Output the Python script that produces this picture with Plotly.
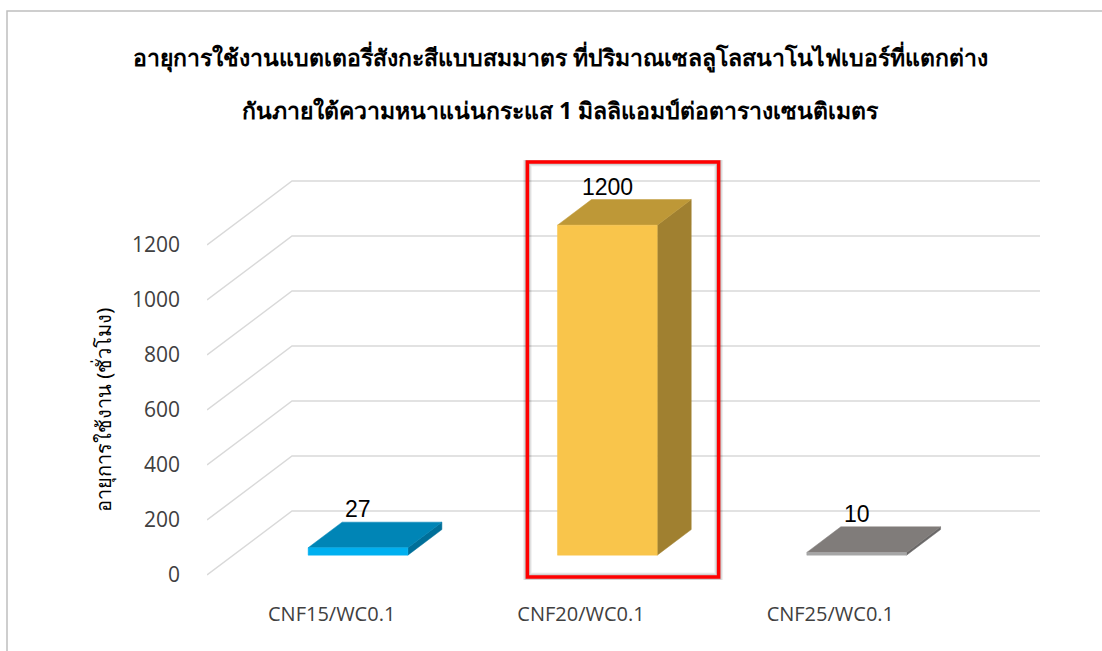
import plotly.graph_objects as go

# ---- data -------------------------------------------------------------
categories = ["CNF15/WC0.1", "CNF20/WC0.1", "CNF25/WC0.1"]
hours = [27, 1200, 10]
y_ticks = [0, 200, 400, 600, 800, 1000, 1200]
highlight = "CNF20/WC0.1"

title_lines = [
    "อายุการใช้งานแบตเตอรี่สังกะสีแบบสมมาตร ที่ปริมาณเซลลูโลสนาโนไฟเบอร์ที่แตกต่าง",
    "กันภายใต้ความหนาแน่นกระแส 1 มิลลิแอมป์ต่อตารางเซนติเมตร",
]
y_title = "อายุการใช้งาน (ชั่วโมง)"

# face colours per bar: front, top, side
front_colors = ["#00B0F0", "#F9C54B", "#A6A6A6"]
top_colors = ["#0085B6", "#BE9837", "#807C7A"]
side_colors = ["#006F99", "#A08030", "#6A6868"]

# ---- geometry ---------------------------------------------------------
W, H = 1102, 651
L, R, T, B = 207, 62, 160, 71
DX = 0.341     # depth offset, category units
DY = 232.7     # depth offset, value units
D0, D1 = 0.31, 0.71   # bar front / back depth
GAP = 0.30
Y_LO, Y_HI = -18.18, 1509.1
N = len(categories)


def proj(c, v, d):
    return c + d * DX, v + d * DY


def px_x(px):
    return (px - L) / (W - L - R)


def px_y(py):
    return (H - B - py) / (H - T - B)


fig = go.Figure()

# floor / wall gridlines: diagonal on the left side, horizontal on back wall
gx, gy = [], []
for v in y_ticks:
    a = proj(0, v, 0)
    b = proj(0, v, 1)
    c = proj(N, v, 1)
    gx += [a[0], b[0], c[0], None]
    gy += [a[1], b[1], c[1], None]
fig.add_trace(go.Scatter(x=gx, y=gy, mode="lines",
                         line=dict(color="#D9D9D9", width=1.5),
                         hoverinfo="skip", showlegend=False))


def face(points, color):
    xs, ys = [], []
    for c, v, d in points:
        px, py = proj(c, v, d)
        xs.append(px)
        ys.append(py)
    xs.append(xs[0])
    ys.append(ys[0])
    fig.add_trace(go.Scatter(x=xs, y=ys, mode="lines", fill="toself",
                             fillcolor=color, line=dict(color=color, width=0.5),
                             hoverinfo="skip", showlegend=False))


for i, v in enumerate(hours):
    x0, x1 = i + GAP, i + 1 - GAP
    face([(x1, 0, D0), (x1, 0, D1), (x1, v, D1), (x1, v, D0)], side_colors[i])
    face([(x0, v, D0), (x1, v, D0), (x1, v, D1), (x0, v, D1)], top_colors[i])
    face([(x0, 0, D0), (x1, 0, D0), (x1, v, D0), (x0, v, D0)], front_colors[i])

# value labels above each bar
for i, v in enumerate(hours):
    lx, ly = proj(i + 0.5, v, D1)
    fig.add_annotation(x=i + 0.5 + D0 * DX, y=ly, text=str(v), showarrow=False,
                       xanchor="center", yanchor="middle", yshift=13,
                       font=dict(family="Liberation Sans, Arial", size=23, color="#000000"))

# highlight frame around one category, with a soft shadow
h = categories.index(highlight)
bx0, bx1 = h + 0.285, h + 1.052
by0, by1 = -7, 1502
for k, op in [(6, 0.06), (4, 0.08), (2, 0.10)]:
    fig.add_shape(type="rect", xref="x", yref="y",
                  x0=bx0, x1=bx1, y0=by0, y1=by1,
                  line=dict(color=f"rgba(0,0,0,{op})", width=3 + k),
                  layer="above")
fig.add_shape(type="rect", xref="x", yref="y", x0=bx0, x1=bx1, y0=by0, y1=by1,
              line=dict(color="#FF0000", width=3.5), layer="above")

# outer chart border
fig.add_shape(type="rect", xref="paper", yref="paper",
              x0=px_x(7), x1=px_x(1120), y0=px_y(670), y1=px_y(11),
              line=dict(color="#BFBFBF", width=1.5))

# title (two lines)
for line, py in zip(title_lines, [57, 110]):
    fig.add_annotation(xref="paper", yref="paper", x=px_x(560), y=px_y(py),
                       text=f"<b>{line}</b>", showarrow=False,
                       xanchor="center", yanchor="middle",
                       font=dict(family="Noto Sans, sans-serif", size=23, color="#000000"))

# y axis title
fig.add_annotation(xref="paper", yref="paper", x=px_x(103), y=px_y(410),
                   text=y_title, showarrow=False, textangle=-90,
                   xanchor="center", yanchor="middle",
                   font=dict(family="Noto Sans, sans-serif", size=20, color="#000000"))

fig.update_layout(
    width=W, height=H,
    margin=dict(l=L, r=R, t=T, b=B),
    paper_bgcolor="white", plot_bgcolor="white",
    showlegend=False,
    xaxis=dict(range=[0, N + DX], tickvals=[i + 0.5 for i in range(N)],
               ticktext=categories, showgrid=False, zeroline=False,
               showline=False, ticks="", ticklabelstandoff=20,
               tickfont=dict(family="Open Sans, sans-serif", size=20, color="#404040"),
               fixedrange=True),
    yaxis=dict(range=[Y_LO, Y_HI], tickvals=y_ticks, showgrid=False,
               zeroline=False, showline=False, ticks="", ticklabelstandoff=26,
               tickfont=dict(family="Open Sans, sans-serif", size=21, color="#404040"),
               fixedrange=True),
)

fig.write_html("out.html")
